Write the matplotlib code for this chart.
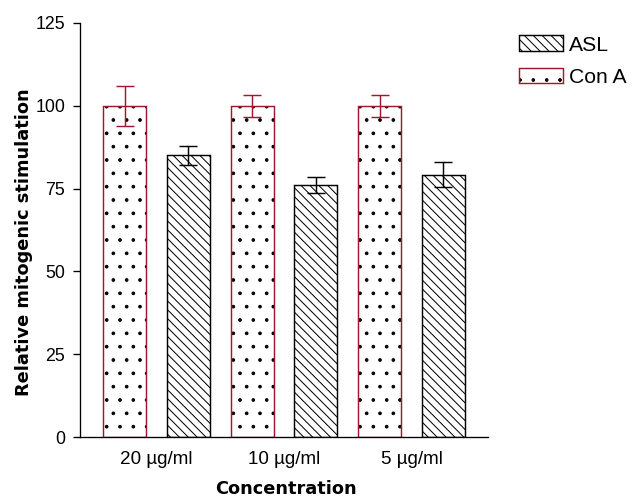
import matplotlib.pyplot as plt
import numpy as np

# data
concentrations = ['20 µg/ml', '10 µg/ml', '5 µg/ml']
cona_mean = [100, 100, 100]
cona_err = [6.0, 3.3, 3.3]
asl_mean = [85, 76, 79.2]
asl_err = [2.8, 2.4, 3.8]

dpi = 80
red = '#a01830'
plt.rcParams['font.family'] = ['Liberation Sans', 'DejaVu Sans']
plt.rcParams['hatch.linewidth'] = 0.9

fig = plt.figure(figsize=(641 / dpi, 498 / dpi), dpi=dpi)
ax = fig.add_axes([80 / 641, 61 / 498, 408 / 641, 414 / 498])

x = np.arange(len(concentrations))
w = 0.336

# Con A: black dots, red outline
cona_fill = ax.bar(x - 0.25, cona_mean, w, color='white', edgecolor='black',
                   linewidth=0, hatch='.')
cona_edge = ax.bar(x - 0.25, cona_mean, w, fill=False, edgecolor=red, linewidth=1.3)
ax.errorbar(x - 0.25, cona_mean, yerr=cona_err, fmt='none', ecolor=red,
            elinewidth=1.3, capsize=8, capthick=1.3)

# ASL: black diagonal lines
asl = ax.bar(x + 0.25, asl_mean, w, color='white', edgecolor='black',
             linewidth=1.3, hatch='\\\\\\')
ax.errorbar(x + 0.25, asl_mean, yerr=asl_err, fmt='none', ecolor='black',
            elinewidth=1.3, capsize=8, capthick=1.3)

ax.set_xlim(-0.6, 2.6)
ax.set_ylim(0, 125)
ax.set_yticks([0, 25, 50, 75, 100, 125])
ax.set_xticks(x)
ax.set_xticklabels(concentrations)
ax.tick_params(axis='y', length=6.3, width=1.2, labelsize=16, pad=7)
ax.tick_params(axis='x', length=0, labelsize=17, pad=13)
for s in ['top', 'right']:
    ax.spines[s].set_visible(False)
for s in ['left', 'bottom']:
    ax.spines[s].set_linewidth(1.2)

ax.set_ylabel('Relative mitogenic stimulation', fontsize=16, fontweight='bold',
              family='DejaVu Sans')
ax.yaxis.set_label_coords(-0.115, 0.471)
ax.set_xlabel('Concentration', fontsize=16, fontweight='bold', family='DejaVu Sans',
              va='top')
ax.xaxis.set_label_coords(0.505, -0.105)

fig.legend([asl, (cona_fill, cona_edge)], ['ASL', 'Con A'],
           loc='upper left', bbox_to_anchor=(511 / 641, 1 - 27 / 498),
           borderaxespad=0, borderpad=0.4,
           frameon=False, fontsize=19, handlelength=2.05, handleheight=0.75,
           handletextpad=0.3, labelspacing=0.62)

fig.savefig('out.png', dpi=dpi)
